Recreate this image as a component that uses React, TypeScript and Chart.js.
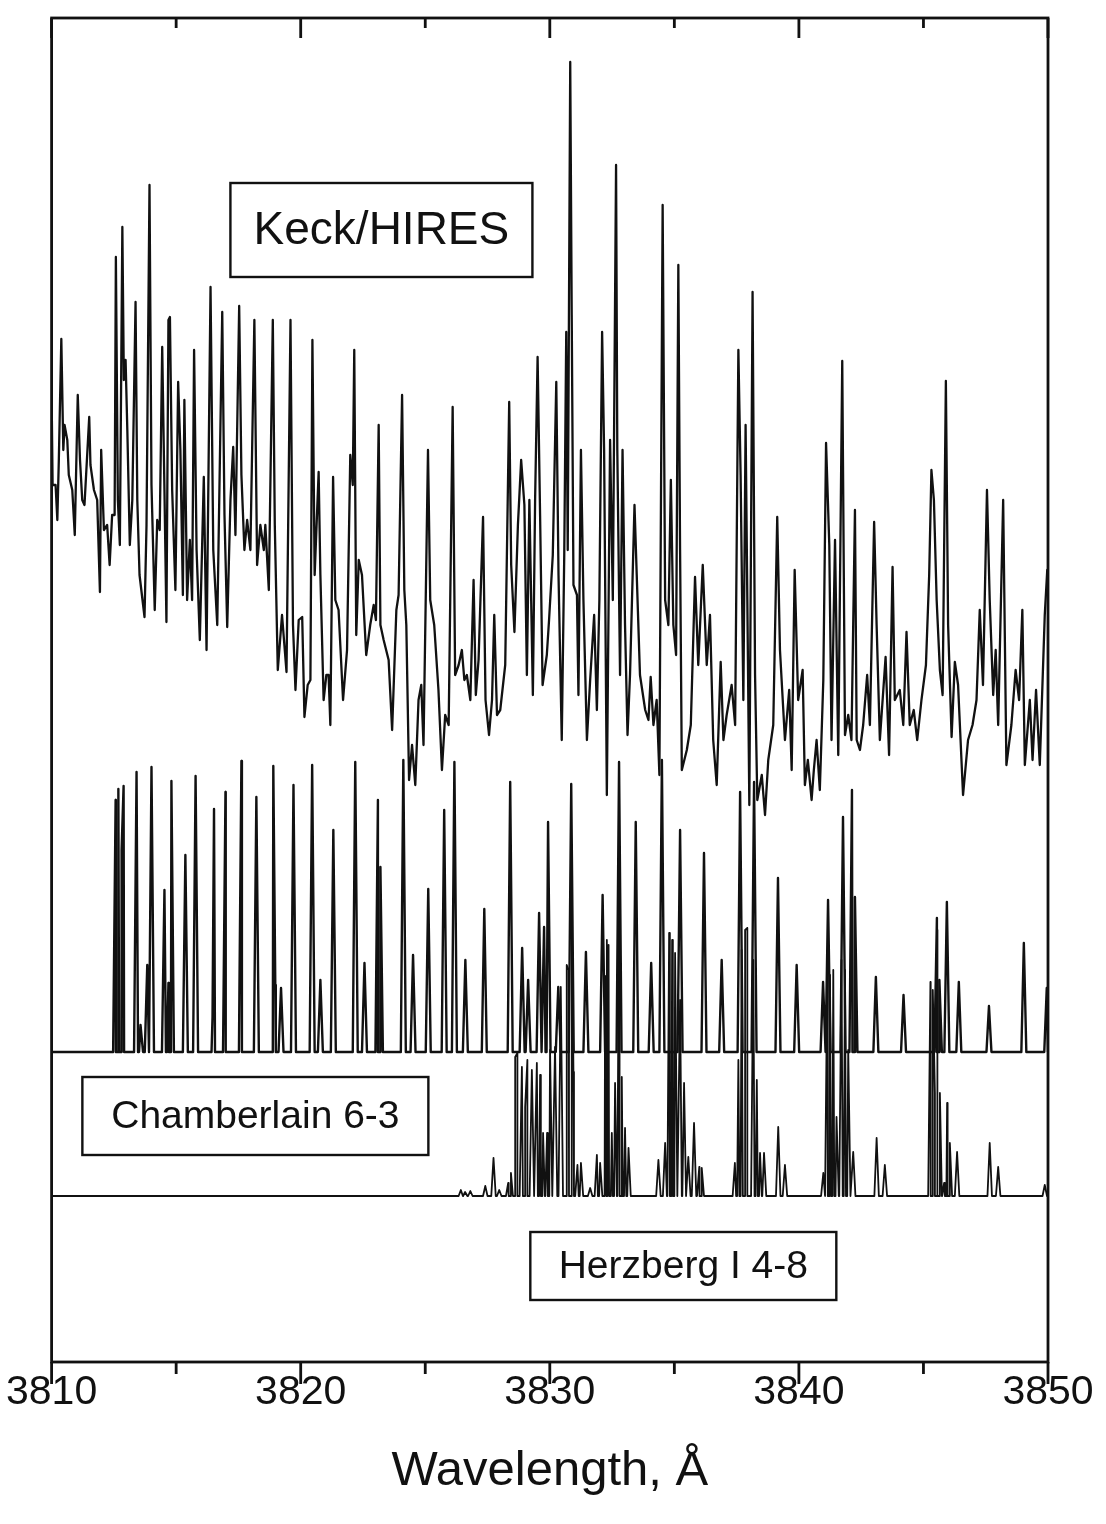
import { useEffect, useRef } from "react";
import { Chart, registerables } from "chart.js";

Chart.register(...registerables);

const FONT = "'Liberation Sans', Arial, Helvetica, sans-serif";

// Wavelength range (Å) and tick positions
const WL_MIN = 3810;
const WL_MAX = 3850;
const MAJOR_TICKS = [3810, 3820, 3830, 3840, 3850];
const MINOR_TICKS = [3815, 3825, 3835, 3845];

// Keck/HIRES observed spectrum: wavelength offset above 3810 Å and flux (arbitrary units)
const KECK_DELTA = [
  0.0, 0.04, 0.16, 0.23, 0.29, 0.39, 0.47, 0.52, 0.63, 0.69,
  0.83, 0.93, 1.05, 1.14, 1.23, 1.32, 1.51, 1.56, 1.7, 1.83,
  1.94, 1.99, 2.1, 2.23, 2.33, 2.43, 2.53, 2.58, 2.66, 2.74,
  2.84, 2.9, 2.97, 3.04, 3.14, 3.24, 3.37, 3.44, 3.53, 3.73,
  3.81, 3.93, 4.01, 4.14, 4.24, 4.34, 4.44, 4.53, 4.61, 4.69,
  4.75, 4.84, 4.97, 5.08, 5.17, 5.27, 5.33, 5.44, 5.55, 5.64,
  5.72, 5.82, 5.95, 6.11, 6.22, 6.38, 6.49, 6.65, 6.85, 6.94,
  7.05, 7.18, 7.29, 7.38, 7.53, 7.62, 7.74, 7.85, 7.98, 8.14,
  8.25, 8.38, 8.52, 8.58, 8.72, 8.88, 8.96, 9.08, 9.25, 9.43,
  9.59, 9.69, 9.79, 9.92, 10.06, 10.15, 10.28, 10.39, 10.47, 10.56,
  10.72, 10.79, 10.92, 11.03, 11.12, 11.19, 11.3, 11.39, 11.52, 11.7,
  11.86, 11.99, 12.09, 12.15, 12.23, 12.33, 12.46, 12.63, 12.79, 12.93,
  13.02, 13.13, 13.2, 13.33, 13.53, 13.67, 13.84, 13.93, 14.07, 14.16,
  14.24, 14.35, 14.47, 14.6, 14.73, 14.84, 14.93, 15.11, 15.2, 15.36,
  15.53, 15.67, 15.8, 15.94, 16.1, 16.2, 16.34, 16.47, 16.57, 16.67,
  16.81, 16.94, 17.03, 17.14, 17.32, 17.42, 17.56, 17.68, 17.77, 17.88,
  18.01, 18.21, 18.37, 18.45, 18.58, 18.72, 18.85, 18.98, 19.08, 19.18,
  19.32, 19.41, 19.51, 19.61, 19.71, 19.88, 19.97, 20.12, 20.26, 20.35,
  20.48, 20.58, 20.66, 20.72, 20.82, 20.88, 20.95, 21.09, 21.15, 21.25,
  21.35, 21.49, 21.62, 21.78, 21.89, 21.99, 22.1, 22.18, 22.29, 22.42,
  22.53, 22.66, 22.71, 22.82, 22.92, 23.02, 23.12, 23.22, 23.4, 23.49,
  23.62, 23.83, 23.96, 24.05, 24.16, 24.29, 24.4, 24.53, 24.63, 24.76,
  24.86, 24.96, 25.07, 25.16, 25.23, 25.3, 25.5, 25.66, 25.83, 25.96,
  26.14, 26.3, 26.43, 26.56, 26.7, 26.86, 26.97, 27.1, 27.3, 27.44,
  27.57, 27.66, 27.77, 27.86, 27.93, 28.01, 28.14, 28.24, 28.33, 28.51,
  28.64, 28.77, 28.97, 29.13, 29.24, 29.44, 29.61, 29.71, 29.83, 29.97,
  30.15, 30.24, 30.36, 30.51, 30.6, 30.71, 30.84, 30.98, 31.09, 31.22,
  31.31, 31.45, 31.58, 31.74, 31.85, 31.98, 32.11, 32.25, 32.32, 32.45,
  32.58, 32.74, 32.85, 33.02, 33.12, 33.25, 33.48, 33.62, 33.76, 33.85,
  34.05, 34.19, 34.32, 34.45, 34.61, 34.75, 34.92, 35.1, 35.23, 35.32,
  35.42, 35.53, 35.66, 35.77, 35.9, 35.99, 36.13, 36.26, 36.39, 36.59,
  36.79, 36.97, 37.13, 37.26, 37.39, 37.55, 37.66, 37.8, 37.9, 38.0,
  38.2, 38.33, 38.53, 38.7, 38.84, 38.97, 39.07, 39.27, 39.38, 39.52,
  39.67, 39.87, 39.97, 40.0,
];
const KECK_FLUX = [
  967, 877, 877, 842, 902, 1023, 912, 937, 922, 887,
  872, 827, 967, 902, 862, 857, 945, 897, 872, 862,
  770, 912, 832, 837, 797, 847, 847, 1105, 862, 817,
  1135, 982, 1002, 932, 817, 862, 1060, 862, 787, 745,
  837, 1177, 877, 752, 842, 832, 1015, 872, 740, 1042,
  1045, 872, 772, 980, 912, 767, 962, 762, 822, 762,
  1012, 812, 722, 885, 712, 1075, 812, 737, 1050, 847,
  735, 862, 915, 827, 1056, 887, 812, 842, 812, 1042,
  797, 837, 812, 837, 772, 1042, 837, 692, 747, 690,
  1042, 737, 672, 742, 745, 645, 677, 682, 1022, 787,
  890, 787, 662, 687, 687, 637, 885, 762, 752, 662,
  712, 907, 877, 1012, 727, 802, 787, 707, 737, 757,
  742, 937, 737, 722, 702, 632, 752, 767, 967, 772,
  737, 582, 617, 577, 662, 677, 617, 912, 762, 737,
  672, 592, 647, 637, 955, 687, 697, 712, 682, 687,
  662, 782, 667, 702, 845, 662, 627, 662, 747, 647,
  652, 697, 960, 797, 730, 837, 902, 857, 687, 862,
  667, 862, 1005, 847, 677, 707, 742, 807, 980, 787,
  622, 807, 1030, 812, 1300, 1047, 777, 767, 667, 912,
  762, 622, 682, 747, 652, 762, 1030, 912, 567, 922,
  762, 1197, 912, 687, 912, 737, 627, 687, 857, 787,
  687, 652, 642, 685, 637, 662, 587, 1157, 762, 737,
  882, 737, 707, 1097, 812, 592, 612, 637, 785, 697,
  797, 697, 747, 622, 577, 700, 622, 647, 677, 637,
  1012, 887, 662, 937, 762, 557, 1070, 687, 562, 587,
  547, 602, 637, 845, 712, 622, 672, 592, 792, 662,
  692, 577, 602, 562, 592, 622, 572, 682, 919, 817,
  622, 822, 607, 1001, 627, 647, 622, 852, 622, 612,
  637, 687, 637, 840, 737, 622, 705, 607, 795, 662,
  672, 637, 730, 637, 652, 622, 662, 697, 787, 892,
  862, 762, 692, 667, 981, 737, 625, 700, 677, 567,
  622, 637, 662, 752, 677, 872, 762, 667, 712, 637,
  862, 597, 637, 692, 662, 752, 597, 662, 602, 672,
  597, 747, 792, 790,
];

// Chamberlain 6-3 synthetic band: line centres (Å) and peak strengths
const CHAMBERLAIN_WL = [
  3812.57, 3812.68, 3812.81, 3812.89, 3813.41, 3813.57, 3813.84, 3814.01, 3814.53, 3814.69,
  3814.81, 3815.37, 3815.78, 3816.46, 3816.52, 3816.89, 3816.98, 3817.54, 3817.62, 3818.22,
  3818.9, 3818.98, 3819.21, 3819.71, 3820.46, 3820.79, 3821.31, 3822.19, 3822.56, 3823.1,
  3823.2, 3824.12, 3824.51, 3825.12, 3825.76, 3826.17, 3826.61, 3827.37, 3828.41, 3828.89,
  3829.13, 3829.57, 3829.77, 3829.93, 3830.34, 3830.86, 3831.45, 3832.12, 3832.78, 3833.45,
  3834.07, 3834.5, 3835.23, 3836.19, 3836.9, 3837.64, 3838.2, 3839.16, 3839.91, 3840.97,
  3841.17, 3841.77, 3842.13, 3842.25, 3843.09, 3844.2, 3845.54, 3845.64, 3845.94, 3846.42,
  3847.63, 3849.03, 3849.95,
];
const CHAMBERLAIN_STRENGTH = [
  252, 263, 202, 266, 280, 27, 87, 285, 162, 69,
  271, 197, 276, 35, 243, 22, 260, 62, 291, 255,
  286, 67, 64, 267, 287, 72, 222, 290, 89, 252,
  185, 292, 97, 163, 242, 290, 92, 143, 270, 104,
  72, 139, 125, 230, 65, 268, 100, 157, 290, 230,
  89, 292, 222, 199, 92, 260, 270, 174, 87, 70,
  152, 235, 262, 155, 75, 57, 134, 72, 150, 70,
  46, 109, 64,
];

// Herzberg I 4-8 synthetic band: line centres (Å) and peak strengths
const HERZBERG_WL = [
  3826.43, 3826.6, 3826.81, 3827.41, 3827.74, 3827.97, 3828.33, 3828.44, 3828.61, 3828.7,
  3828.88, 3829.01, 3829.1, 3829.28, 3829.48, 3829.61, 3829.73, 3829.89, 3830.01, 3830.21,
  3830.44, 3830.68, 3830.76, 3830.88, 3830.95, 3831.11, 3831.25, 3831.62, 3831.89, 3832.02,
  3832.22, 3832.29, 3832.36, 3832.49, 3832.62, 3832.78, 3832.89, 3833.02, 3833.16, 3834.36,
  3834.63, 3834.79, 3834.91, 3835.03, 3835.23, 3835.39, 3835.56, 3835.79, 3836.0, 3836.1,
  3837.43, 3837.57, 3837.7, 3837.84, 3837.93, 3838.17, 3838.31, 3838.44, 3838.6, 3839.17,
  3839.44, 3840.98, 3841.14, 3841.25, 3841.38, 3841.51, 3841.71, 3841.85, 3841.98, 3842.18,
  3843.12, 3843.45, 3845.28, 3845.38, 3845.46, 3845.55, 3845.66, 3845.83, 3845.95, 3846.06,
  3846.35, 3847.66, 3848.0, 3849.87,
];
const HERZBERG_STRENGTH = [
  6, 4, 5, 10, 38, 6, 13, 23, 139, 143,
  129, 89, 136, 126, 133, 121, 63, 63, 146, 149,
  209, 231, 226, 296, 124, 31, 33, 8, 41, 33,
  220, 256, 251, 63, 113, 296, 119, 68, 48, 36,
  53, 263, 256, 243, 196, 113, 39, 73, 29, 28,
  33, 136, 246, 266, 268, 236, 116, 43, 43, 69,
  31, 23, 229, 221, 226, 79, 236, 226, 146, 44,
  58, 31, 214, 206, 103, 266, 103, 13, 93, 53,
  44, 53, 29, 11,
];

// Vertical offsets of the two synthetic traces and their line half-widths (Å)
const CHAMBERLAIN_OFFSET = 310;
const HERZBERG_OFFSET = 166;
const CHAMBERLAIN_HALF_WIDTH = 0.1;
const HERZBERG_HALF_WIDTH = 0.09;

// Boxed trace labels, anchored in data coordinates
const TRACE_LABELS = [
  { text: "Keck/HIRES", wl: 3823.24, level: 1132, w: 302, h: 94, size: 46 },
  { text: "Chamberlain 6-3", wl: 3818.18, level: 246, w: 346, h: 78, size: 39 },
  { text: "Herzberg I 4-8", wl: 3835.36, level: 96, w: 306, h: 68, size: 39 },
];

type Pt = { x: number; y: number };

function stickSpectrum(
  centres: number[],
  strengths: number[],
  offset: number,
  halfWidth: number
): Pt[] {
  const pts: Pt[] = [
    { x: WL_MIN, y: offset },
    { x: WL_MAX, y: offset },
  ];
  centres.forEach((c, i) => {
    pts.push({ x: c - halfWidth, y: offset });
    pts.push({ x: c, y: offset + strengths[i] });
    pts.push({ x: c + halfWidth, y: offset });
  });
  return pts.sort((a, b) => a.x - b.x);
}

const framePlugin = {
  id: "frameTicksLabels",
  afterDatasetsDraw(chart: any) {
    const { ctx, chartArea: a, scales } = chart;
    const xs = scales.x;
    const ys = scales.y;
    ctx.save();

    // trace labels
    for (const l of TRACE_LABELS) {
      const cx = xs.getPixelForValue(l.wl);
      const cy = ys.getPixelForValue(l.level);
      ctx.fillStyle = "#ffffff";
      ctx.fillRect(cx - l.w / 2, cy - l.h / 2, l.w, l.h);
      ctx.lineWidth = 2.4;
      ctx.strokeStyle = "#111";
      ctx.strokeRect(cx - l.w / 2, cy - l.h / 2, l.w, l.h);
      ctx.fillStyle = "#111";
      ctx.font = `${l.size}px ${FONT}`;
      ctx.textAlign = "center";
      ctx.textBaseline = "middle";
      ctx.fillText(l.text, cx, cy + 1);
    }

    // plot frame
    ctx.strokeStyle = "#111";
    ctx.lineWidth = 2.8;
    ctx.strokeRect(a.left, a.top, a.right - a.left, a.bottom - a.top);

    // tick marks: outward on the bottom axis, inward from the top edge
    ctx.lineWidth = 2.8;
    ctx.beginPath();
    for (const v of MAJOR_TICKS) {
      const px = xs.getPixelForValue(v);
      ctx.moveTo(px, a.bottom);
      ctx.lineTo(px, a.bottom + 22);
      ctx.moveTo(px, a.top);
      ctx.lineTo(px, a.top + 20);
    }
    for (const v of MINOR_TICKS) {
      const px = xs.getPixelForValue(v);
      ctx.moveTo(px, a.bottom);
      ctx.lineTo(px, a.bottom + 12);
      ctx.moveTo(px, a.top);
      ctx.lineTo(px, a.top + 10);
    }
    ctx.stroke();
    ctx.restore();
  },
};

export default function App() {
  const canvasRef = useRef<HTMLCanvasElement | null>(null);

  useEffect(() => {
    const canvas = canvasRef.current;
    if (!canvas) return;

    const keck: Pt[] = KECK_DELTA.map((d, i) => ({ x: WL_MIN + d, y: KECK_FLUX[i] }));
    const chamberlain = stickSpectrum(
      CHAMBERLAIN_WL,
      CHAMBERLAIN_STRENGTH,
      CHAMBERLAIN_OFFSET,
      CHAMBERLAIN_HALF_WIDTH
    );
    const herzberg = stickSpectrum(
      HERZBERG_WL,
      HERZBERG_STRENGTH,
      HERZBERG_OFFSET,
      HERZBERG_HALF_WIDTH
    );

    const line = (label: string, data: Pt[], width: number) => ({
      label,
      data,
      borderColor: "#111",
      borderWidth: width,
      borderJoinStyle: "round",
      pointRadius: 0,
      tension: 0,
      fill: false,
    });

    const chart = new Chart(canvas, {
      type: "line",
      data: {
        datasets: [
          line("Keck/HIRES", keck, 2.3),
          line("Chamberlain 6-3", chamberlain, 2.4),
          line("Herzberg I 4-8", herzberg, 1.8),
        ],
      },
      options: {
        responsive: false,
        animation: false,
        devicePixelRatio: 1,
        parsing: false,
        events: [],
        layout: { padding: { left: 51, right: 58, top: 18, bottom: 0 } },
        plugins: {
          legend: { display: false },
          tooltip: { enabled: false },
        },
        scales: {
          x: {
            type: "linear",
            min: WL_MIN,
            max: WL_MAX,
            position: "bottom",
            grid: { display: false, drawTicks: false },
            border: { display: false },
            ticks: {
              stepSize: 10,
              padding: 6,
              color: "#111",
              autoSkip: false,
              maxRotation: 0,
              font: { family: FONT, size: 41 },
              callback: (v: any) => String(v),
            },
            title: {
              display: true,
              text: "Wavelength, Å",
              color: "#111",
              font: { family: FONT, size: 49 },
              padding: { top: 0, bottom: 23 },
            },
            afterFit: (scale: any) => {
              scale.height = 162;
            },
          },
          y: { type: "linear", min: 0, max: 1344, display: false },
        },
      },
      plugins: [framePlugin],
    } as any);

    return () => chart.destroy();
  }, []);

  return (
    <div
      style={{
        position: "absolute",
        left: 0,
        top: 0,
        width: 1106,
        height: 1524,
        background: "#ffffff",
      }}
    >
      <canvas ref={canvasRef} width={1106} height={1524} style={{ display: "block" }} />
    </div>
  );
}
